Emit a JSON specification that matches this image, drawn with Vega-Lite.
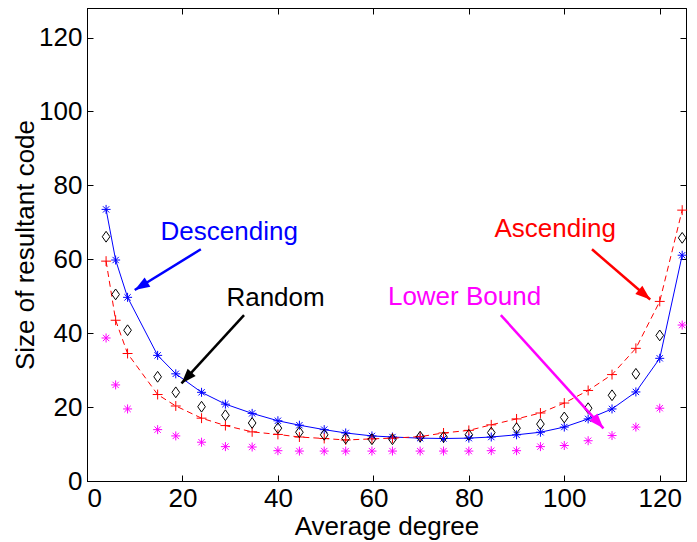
{
  "$schema": "https://vega.github.io/schema/vega-lite/v6.json",
  "width": 599,
  "height": 473,
  "autosize": "none",
  "padding": {"left": 87, "top": 8, "right": 11, "bottom": 61},
  "background": "white",
  "config": {
    "font": "Liberation Sans",
    "view": {"stroke": "black", "strokeWidth": 1},
    "axis": {
      "grid": false,
      "domainColor": "black",
      "tickColor": "black",
      "labelColor": "black",
      "titleColor": "black",
      "labelFontSize": 26,
      "titleFontSize": 26,
      "titleFontWeight": "normal",
      "tickSize": -6,
      "tickWidth": 1,
      "domainWidth": 1
    }
  },
  "datasets": {
    "series": [
      {"s": "Descending", "x": 4, "y": 73.5}, {"s": "Descending", "x": 6, "y": 59.8}, {"s": "Descending", "x": 8.5, "y": 49.7}, {"s": "Descending", "x": 14.8, "y": 34.0}, {"s": "Descending", "x": 18.6, "y": 29.0}, {"s": "Descending", "x": 24, "y": 24.0}, {"s": "Descending", "x": 29, "y": 20.8}, {"s": "Descending", "x": 34.6, "y": 18.3}, {"s": "Descending", "x": 40, "y": 16.3}, {"s": "Descending", "x": 44.5, "y": 15.1}, {"s": "Descending", "x": 49.7, "y": 13.9}, {"s": "Descending", "x": 54.2, "y": 13.0}, {"s": "Descending", "x": 59.7, "y": 12.2}, {"s": "Descending", "x": 64, "y": 11.9}, {"s": "Descending", "x": 69.8, "y": 11.6}, {"s": "Descending", "x": 74.7, "y": 11.5}, {"s": "Descending", "x": 80, "y": 11.6}, {"s": "Descending", "x": 84.7, "y": 11.9}, {"s": "Descending", "x": 90, "y": 12.5}, {"s": "Descending", "x": 95, "y": 13.2}, {"s": "Descending", "x": 100, "y": 14.6}, {"s": "Descending", "x": 105, "y": 16.8}, {"s": "Descending", "x": 110, "y": 19.5}, {"s": "Descending", "x": 115, "y": 24.1}, {"s": "Descending", "x": 120, "y": 33.2}, {"s": "Descending", "x": 124.7, "y": 61.1},
      {"s": "Ascending", "x": 4, "y": 59.5}, {"s": "Ascending", "x": 6, "y": 43.5}, {"s": "Ascending", "x": 8.5, "y": 34.5}, {"s": "Ascending", "x": 14.8, "y": 23.4}, {"s": "Ascending", "x": 18.6, "y": 20.3}, {"s": "Ascending", "x": 24, "y": 17.0}, {"s": "Ascending", "x": 29, "y": 15.0}, {"s": "Ascending", "x": 34.6, "y": 13.3}, {"s": "Ascending", "x": 40, "y": 12.6}, {"s": "Ascending", "x": 44.5, "y": 11.9}, {"s": "Ascending", "x": 49.7, "y": 11.5}, {"s": "Ascending", "x": 54.2, "y": 11.1}, {"s": "Ascending", "x": 59.7, "y": 11.4}, {"s": "Ascending", "x": 64, "y": 11.6}, {"s": "Ascending", "x": 69.8, "y": 12.0}, {"s": "Ascending", "x": 74.7, "y": 13.0}, {"s": "Ascending", "x": 80, "y": 13.7}, {"s": "Ascending", "x": 84.7, "y": 15.2}, {"s": "Ascending", "x": 90, "y": 16.8}, {"s": "Ascending", "x": 95, "y": 18.4}, {"s": "Ascending", "x": 100, "y": 21.1}, {"s": "Ascending", "x": 105, "y": 24.5}, {"s": "Ascending", "x": 110, "y": 28.8}, {"s": "Ascending", "x": 115, "y": 35.9}, {"s": "Ascending", "x": 120, "y": 48.6}, {"s": "Ascending", "x": 124.7, "y": 73.3},
      {"s": "Random", "x": 4, "y": 66.1}, {"s": "Random", "x": 6, "y": 50.5}, {"s": "Random", "x": 8.5, "y": 40.8}, {"s": "Random", "x": 14.8, "y": 28.2}, {"s": "Random", "x": 18.6, "y": 24.0}, {"s": "Random", "x": 24, "y": 20.1}, {"s": "Random", "x": 29, "y": 17.8}, {"s": "Random", "x": 34.6, "y": 15.7}, {"s": "Random", "x": 40, "y": 14.3}, {"s": "Random", "x": 44.5, "y": 13.2}, {"s": "Random", "x": 49.7, "y": 12.5}, {"s": "Random", "x": 54.2, "y": 11.5}, {"s": "Random", "x": 59.7, "y": 11.3}, {"s": "Random", "x": 64, "y": 11.3}, {"s": "Random", "x": 69.8, "y": 12.0}, {"s": "Random", "x": 74.7, "y": 11.9}, {"s": "Random", "x": 80, "y": 12.5}, {"s": "Random", "x": 84.7, "y": 13.1}, {"s": "Random", "x": 90, "y": 14.3}, {"s": "Random", "x": 95, "y": 15.4}, {"s": "Random", "x": 100, "y": 17.2}, {"s": "Random", "x": 105, "y": 19.7}, {"s": "Random", "x": 110, "y": 23.2}, {"s": "Random", "x": 115, "y": 29.0}, {"s": "Random", "x": 120, "y": 39.4}, {"s": "Random", "x": 124.7, "y": 65.8},
      {"s": "Lower Bound", "x": 4, "y": 38.7}, {"s": "Lower Bound", "x": 6, "y": 26.0}, {"s": "Lower Bound", "x": 8.5, "y": 19.5}, {"s": "Lower Bound", "x": 14.8, "y": 13.9}, {"s": "Lower Bound", "x": 18.6, "y": 12.2}, {"s": "Lower Bound", "x": 24, "y": 10.5}, {"s": "Lower Bound", "x": 29, "y": 9.3}, {"s": "Lower Bound", "x": 34.6, "y": 9.2}, {"s": "Lower Bound", "x": 40, "y": 8.2}, {"s": "Lower Bound", "x": 44.5, "y": 8.1}, {"s": "Lower Bound", "x": 49.7, "y": 8.1}, {"s": "Lower Bound", "x": 54.2, "y": 8.1}, {"s": "Lower Bound", "x": 59.7, "y": 8.1}, {"s": "Lower Bound", "x": 64, "y": 8.1}, {"s": "Lower Bound", "x": 69.8, "y": 8.1}, {"s": "Lower Bound", "x": 74.7, "y": 8.1}, {"s": "Lower Bound", "x": 80, "y": 8.1}, {"s": "Lower Bound", "x": 84.7, "y": 8.2}, {"s": "Lower Bound", "x": 90, "y": 8.2}, {"s": "Lower Bound", "x": 95, "y": 9.3}, {"s": "Lower Bound", "x": 100, "y": 9.6}, {"s": "Lower Bound", "x": 105, "y": 10.9}, {"s": "Lower Bound", "x": 110, "y": 12.3}, {"s": "Lower Bound", "x": 115, "y": 14.6}, {"s": "Lower Bound", "x": 120, "y": 19.7}, {"s": "Lower Bound", "x": 124.7, "y": 42.2}
    ],
    "notes": [
      {"s": "Descending", "tx": 29.8, "ty": 65.2, "sx": 23.85, "sy": 62.7, "ex": 10.0, "ey": 51.7},
      {"s": "Random", "tx": 39.5, "ty": 47.3, "sx": 32.9, "sy": 44.9, "ex": 19.8, "ey": 26.4},
      {"s": "Ascending", "tx": 98.1, "ty": 66.1, "sx": 105.8, "sy": 62.7, "ex": 118.0, "ey": 49.1},
      {"s": "Lower Bound", "tx": 79.1, "ty": 47.6, "sx": 86.7, "sy": 44.9, "ex": 108.2, "ey": 14.25}
    ]
  },
  "resolve": {"axis": {"x": "independent", "y": "independent"}},
  "layer": [
    {
      "data": {"name": "series"},
      "transform": [{"filter": "datum.s === 'Descending'"}],
      "mark": {"type": "line", "color": "#0000ff", "strokeWidth": 1},
      "encoding": {
        "x": {"field": "x", "type": "quantitative", "scale": {"domain": [0, 125.5], "nice": false, "zero": false},
              "axis": {"orient": "bottom", "values": [0, 20, 40, 60, 80, 100, 120], "title": "Average degree", "labelPadding": 10, "titlePadding": 2}},
        "y": {"field": "y", "type": "quantitative", "scale": {"domain": [0, 128], "nice": false, "zero": false},
              "axis": {"orient": "left", "values": [0, 20, 40, 60, 80, 100, 120], "title": "Size of resultant code", "labelPadding": 11, "titlePadding": 0}}
      }
    },
    {
      "data": {"name": "series"},
      "mark": {"type": "point", "opacity": 0},
      "encoding": {
        "x": {"field": "x", "type": "quantitative",
              "axis": {"orient": "top", "values": [0, 20, 40, 60, 80, 100, 120], "labels": false, "title": null}},
        "y": {"field": "y", "type": "quantitative",
              "axis": {"orient": "right", "values": [0, 20, 40, 60, 80, 100, 120], "labels": false, "title": null}}
      }
    },
    {
      "data": {"name": "series"},
      "transform": [{"filter": "datum.s === 'Ascending'"}],
      "mark": {"type": "line", "color": "#ff0000", "strokeWidth": 1, "strokeDash": [6, 4]},
      "encoding": {
        "x": {"field": "x", "type": "quantitative", "axis": null},
        "y": {"field": "y", "type": "quantitative", "axis": null}
      }
    },
    {
      "data": {"name": "series"},
      "mark": {"type": "point", "filled": false, "strokeWidth": 1, "size": 81, "opacity": 1},
      "encoding": {
        "x": {"field": "x", "type": "quantitative", "axis": null},
        "y": {"field": "y", "type": "quantitative", "axis": null},
        "shape": {"field": "s", "type": "nominal", "legend": null,
                  "scale": {"domain": ["Descending", "Ascending", "Random", "Lower Bound"],
                            "range": ["M-1,0L1,0M0,-1L0,1M-0.7,-0.7L0.7,0.7M-0.7,0.7L0.7,-0.7", "M-1.1,0L1.1,0M0,-1.1L0,1.1", "M0,-1.2L0.85,0L0,1.2L-0.85,0Z", "M-1,0L1,0M0,-1L0,1M-0.7,-0.7L0.7,0.7M-0.7,0.7L0.7,-0.7"]}},
        "color": {"field": "s", "type": "nominal", "legend": null,
                  "scale": {"domain": ["Descending", "Ascending", "Random", "Lower Bound"], "range": ["#0000ff", "#ff0000", "#000000", "#ff00ff"]}}
      }
    },
    {
      "data": {"name": "notes"},
      "mark": {"type": "rule", "strokeWidth": 2.5},
      "encoding": {
        "x": {"field": "sx", "type": "quantitative", "axis": null},
        "y": {"field": "sy", "type": "quantitative", "axis": null},
        "x2": {"field": "ex"},
        "y2": {"field": "ey"},
        "color": {"field": "s", "type": "nominal", "legend": null}
      }
    },
    {
      "data": {"name": "notes"},
      "transform": [{"filter": "datum.s === 'Descending'"}],
      "mark": {"type": "point", "shape": "M0,0L0.36,1L-0.36,1Z", "filled": true, "size": 900, "angle": 238.3, "opacity": 1, "strokeWidth": 0},
      "encoding": {
        "x": {"field": "ex", "type": "quantitative", "axis": null},
        "y": {"field": "ey", "type": "quantitative", "axis": null},
        "color": {"field": "s", "type": "nominal", "legend": null}
      }
    },
    {
      "data": {"name": "notes"},
      "transform": [{"filter": "datum.s === 'Random'"}],
      "mark": {"type": "point", "shape": "M0,0L0.36,1L-0.36,1Z", "filled": true, "size": 900, "angle": 222.4, "opacity": 1, "strokeWidth": 0},
      "encoding": {
        "x": {"field": "ex", "type": "quantitative", "axis": null},
        "y": {"field": "ey", "type": "quantitative", "axis": null},
        "color": {"field": "s", "type": "nominal", "legend": null}
      }
    },
    {
      "data": {"name": "notes"},
      "transform": [{"filter": "datum.s === 'Ascending'"}],
      "mark": {"type": "point", "shape": "M0,0L0.36,1L-0.36,1Z", "filled": true, "size": 900, "angle": 130.6, "opacity": 1, "strokeWidth": 0},
      "encoding": {
        "x": {"field": "ex", "type": "quantitative", "axis": null},
        "y": {"field": "ey", "type": "quantitative", "axis": null},
        "color": {"field": "s", "type": "nominal", "legend": null}
      }
    },
    {
      "data": {"name": "notes"},
      "transform": [{"filter": "datum.s === 'Lower Bound'"}],
      "mark": {"type": "point", "shape": "M0,0L0.36,1L-0.36,1Z", "filled": true, "size": 900, "angle": 137.8, "opacity": 1, "strokeWidth": 0},
      "encoding": {
        "x": {"field": "ex", "type": "quantitative", "axis": null},
        "y": {"field": "ey", "type": "quantitative", "axis": null},
        "color": {"field": "s", "type": "nominal", "legend": null}
      }
    },
    {
      "data": {"name": "notes"},
      "mark": {"type": "text", "fontSize": 26, "align": "center", "baseline": "alphabetic"},
      "encoding": {
        "x": {"field": "tx", "type": "quantitative", "axis": null},
        "y": {"field": "ty", "type": "quantitative", "axis": null},
        "text": {"field": "s"},
        "color": {"field": "s", "type": "nominal", "legend": null}
      }
    }
  ]
}
